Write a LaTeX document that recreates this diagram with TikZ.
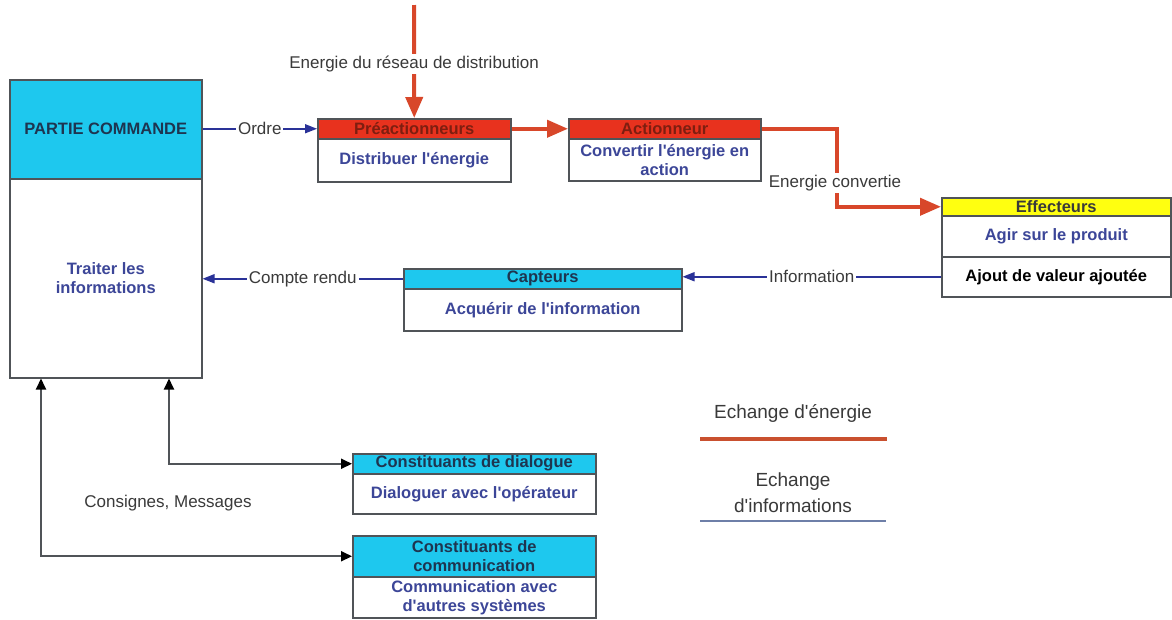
\documentclass[tikz,border=0pt]{standalone}
\usepackage{fontspec}
\setmainfont{Liberation Sans}
\usetikzlibrary{arrows.meta,calc}

\definecolor{boxline}{HTML}{505458}
\definecolor{cyanfill}{HTML}{1EC8EE}
\definecolor{redfill}{HTML}{E8321E}
\definecolor{yellowfill}{HTML}{FFFF10}
\definecolor{energyred}{HTML}{D8472A}
\definecolor{legendred}{HTML}{C9502F}
\definecolor{infoblue}{HTML}{2A3298}
\definecolor{legendblue}{HTML}{6E7FA8}
\definecolor{bodyblue}{HTML}{3C4698}
\definecolor{navytext}{HTML}{1E3550}
\definecolor{darkred}{HTML}{7E1E10}
\definecolor{labelgray}{HTML}{3A3A3A}

\newcommand{\ap}{\textquotesingle}

\begin{document}
\begin{tikzpicture}[x=1pt,y=-1pt,
  boxpart/.style={draw=boxline, line width=1.5pt, inner sep=0pt, anchor=north west,
    align=center, font=\bfseries\fontsize{16.5}{19}\selectfont},
  cyanhead/.style={boxpart, fill=cyanfill, text=navytext},
  redhead/.style={boxpart, fill=redfill, text=darkred},
  yellowhead/.style={boxpart, fill=yellowfill, text=labelgray},
  bodypart/.style={boxpart, fill=white, text=bodyblue},
  lbl/.style={fill=white, inner sep=2pt, text=labelgray, font=\fontsize{17}{20}\selectfont},
  legendtxt/.style={text=labelgray, align=center, font=\fontsize{19}{26}\selectfont},
  energy/.style={draw=energyred, line width=4pt, -{Triangle[length=21pt,width=17pt]}},
  info/.style={draw=infoblue, line width=1.5pt, -{Triangle[length=12pt,width=9pt]}},
  ctrl/.style={draw=boxline, line width=2pt,
    {Triangle[length=11pt,width=10pt,color=black]}-{Triangle[length=11pt,width=10pt,color=black]}}
]
\useasboundingbox[fill=white] (0,0) rectangle (1172,619);

% Partie commande
\node[cyanhead, minimum width=192pt, minimum height=99pt] (pc) at (9,79) {PARTIE COMMANDE};
\node[bodypart, minimum width=192pt, minimum height=199pt] (pcb) at (9,178) {Traiter les\\informations};

% Chaine d'energie
\node[redhead, minimum width=193pt, minimum height=20pt] (pre) at (317,118) {Préactionneurs};
\node[bodypart, minimum width=193pt, minimum height=43pt] (preb) at (317,138) {Distribuer l\ap énergie};

\node[redhead, minimum width=192pt, minimum height=20pt] (act) at (568,118) {Actionneur};
\node[bodypart, minimum width=192pt, minimum height=42pt] (actb) at (568,138) {Convertir l\ap énergie en\\action};

\node[yellowhead, minimum width=229pt, minimum height=18pt] (eff) at (941,197) {Effecteurs};
\node[bodypart, minimum width=229pt, minimum height=41pt] (effa) at (941,215) {Agir sur le produit};
\node[bodypart, text=black, minimum width=229pt, minimum height=40pt] (effb) at (941,256) {Ajout de valeur ajoutée};

% Chaine d'information
\node[cyanhead, minimum width=278pt, minimum height=20pt] (cap) at (403,268) {Capteurs};
\node[bodypart, minimum width=278pt, minimum height=42pt] (capb) at (403,288) {Acquérir de l\ap information};

\node[cyanhead, minimum width=243pt, minimum height=20pt] (dia) at (352,453) {Constituants de dialogue};
\node[bodypart, minimum width=243pt, minimum height=40pt] (diab) at (352,473) {Dialoguer avec l\ap opérateur};

\node[cyanhead, minimum width=243pt, minimum height=41pt] (com) at (352,535) {Constituants de\\communication};
\node[bodypart, minimum width=243pt, minimum height=41pt] (comb) at (352,576) {Communication avec\\d\ap autres systèmes};

% Flux d'energie
\coordinate (src) at (414,5);
\draw[energy] (src) -- node[lbl, pos=0.52] {Energie du réseau de distribution} (pre.north);
\draw[energy] (pre.east) -- (act.west);
\draw[energy] (act.east) -- ++(75,0) coordinate (bend)
  -- (bend |- eff.west) -- (eff.west);
\node[lbl] (econv) at (835,183) {Energie convertie};

% Flux d'information
\draw[info] (pre.west -| pc.east) -- node[lbl] {Ordre} (pre.west);
\draw[info] (effb.west) -- node[lbl] {Information} (effb.west -| cap.east);
\draw[info] (cap.west) -- node[lbl] {Compte rendu} (cap.west -| pcb.east);

% Dialogue et communication
\draw[ctrl] (dia.west) -| ($(pcb.south west)+(160,0)$);
\draw[ctrl] (com.west) -| ($(pcb.south west)+(32,0)$);
\node[lbl, fill=none] (consignes) at (168,503) {Consignes, Messages};

% Legende
\node[legendtxt] (legE) at (793,413) {Echange d\ap énergie};
\coordinate (legEa) at (700,439);
\coordinate (legEb) at (887,439);
\draw[legendred, line width=4pt] (legEa) -- (legEb);
\node[legendtxt] (legI) at (793,493) {Echange\\d\ap informations};
\coordinate (legIa) at (700,521);
\coordinate (legIb) at (886,521);
\draw[legendblue, line width=2pt] (legIa) -- (legIb);
\end{tikzpicture}
\end{document}
